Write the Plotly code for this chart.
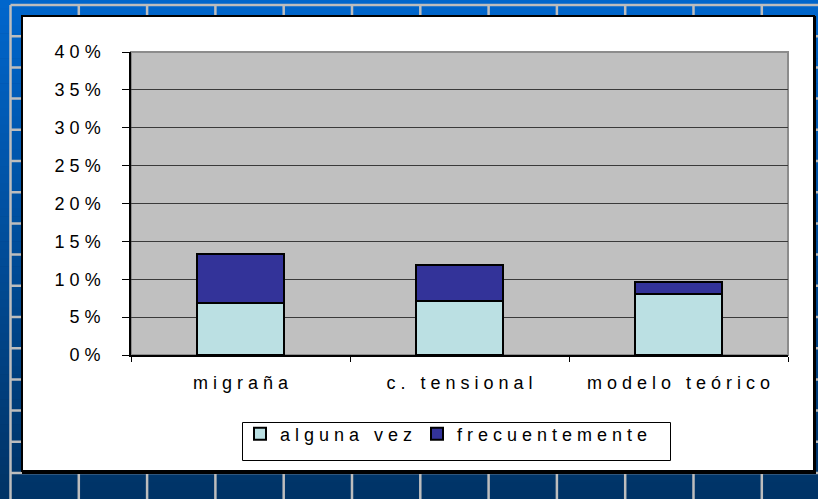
import plotly.graph_objects as go

# ---- data ----
categories = ["migraña", "c. tensional", "modelo teórico"]
series_names = ["alguna vez", "frecuentemente"]
alguna_vez = [0.068, 0.071, 0.080]
frecuentemente = [0.065, 0.048, 0.017]
y_tick_values = [0.00, 0.05, 0.10, 0.15, 0.20, 0.25, 0.30, 0.35, 0.40]
y_tick_labels = ["0%", "5%", "10%", "15%", "20%", "25%", "30%", "35%", "40%"]

NB = "\u00a0"


def spaced(s):
    return NB.join(ch if ch != " " else NB for ch in s)


# ---- geometry (pixels) ----
W, H = 818, 499
L, R, T, B = 131, 30, 52, 144
PW, PH = W - L - R, H - T - B


def px(x):
    return (x - L) / PW


def py(y):
    return (H - B - y) / PH


FONT = "Arial, Liberation Sans, sans-serif"

fig = go.Figure()
fig.add_trace(go.Bar(
    x=categories, y=alguna_vez, name=spaced(series_names[0]),
    marker=dict(color="#BBE0E3", line=dict(color="black", width=2)),
    width=0.4, legendwidth=132,
))
fig.add_trace(go.Bar(
    x=categories, y=frecuentemente, name=spaced(series_names[1]),
    marker=dict(color="#333399", line=dict(color="black", width=2)),
    width=0.4, legendwidth=215,
))

shapes = []
# gradient background
N = 60
top_c = (0, 102, 204)
bot_c = (0, 51, 102)
for i in range(N):
    t = i / (N - 1)
    c = tuple(round(top_c[k] + (bot_c[k] - top_c[k]) * t) for k in range(3))
    y0 = H * i / N
    y1 = H * (i + 1) / N + 0.6
    shapes.append(dict(type="rect", xref="paper", yref="paper", layer="below",
                       x0=px(-2), x1=px(W + 2), y0=py(y0), y1=py(y1),
                       fillcolor="rgb(%d,%d,%d)" % c, line=dict(width=0)))
# slide grid lines
gcol = "#BDBDBD"
for k in range(16):
    y = 5 + 31.2 * k
    shapes.append(dict(type="line", xref="paper", yref="paper", layer="below",
                       x0=px(10.5), x1=px(W + 2), y0=py(y), y1=py(y),
                       line=dict(color=gcol, width=2.5)))
for k in range(12):
    x = 10.5 + 68.3 * k
    shapes.append(dict(type="line", xref="paper", yref="paper", layer="below",
                       x0=px(x), x1=px(x), y0=py(5), y1=py(H + 2),
                       line=dict(color=gcol, width=2.5)))
# white chart box with shadow
shapes.append(dict(type="rect", xref="paper", yref="paper", layer="below",
                   x0=px(22), x1=px(816), y0=py(16), y1=py(474),
                   fillcolor="black", line=dict(width=0)))
shapes.append(dict(type="rect", xref="paper", yref="paper", layer="below",
                   x0=px(22), x1=px(814), y0=py(16), y1=py(471),
                   fillcolor="white", line=dict(color="black", width=2)))
# legend box
shapes.append(dict(type="rect", xref="paper", yref="paper", layer="below",
                   x0=px(242.5), x1=px(670.5), y0=py(422.5), y1=py(460.5),
                   fillcolor="white", line=dict(color="black", width=1)))
# plot area
shapes.append(dict(type="rect", xref="paper", yref="paper", layer="below",
                   x0=0, x1=1, y0=0, y1=1,
                   fillcolor="#C0C0C0", line=dict(color="#8C8C8C", width=2)))

fig.update_layout(
    width=W, height=H,
    margin=dict(l=L, r=R, t=T, b=B, pad=0),
    paper_bgcolor="#003366",
    plot_bgcolor="rgba(0,0,0,0)",
    barmode="stack",
    bargap=0.6,
    showlegend=True,
    font=dict(family=FONT, size=18, color="black"),
    shapes=shapes,
    legend=dict(
        orientation="h", x=px(240), xanchor="left", y=py(434), yanchor="middle",
        bgcolor="rgba(0,0,0,0)", borderwidth=0,
        font=dict(family=FONT, size=18, color="black"),
        entrywidthmode="pixels", traceorder="normal",
    ),
    xaxis=dict(
        type="category", tickvals=categories,
        ticktext=[spaced(c) for c in categories],
        showline=True, linecolor="black", linewidth=1.5,
        ticks="outside", tickson="boundaries", ticklen=5, tickcolor="black",
        showgrid=False, ticklabelstandoff=11,
        tickfont=dict(family=FONT, size=18, color="black"),
    ),
    yaxis=dict(
        range=[0, 0.40], tickvals=y_tick_values,
        ticktext=[spaced(t) for t in y_tick_labels],
        showline=True, linecolor="black", linewidth=1.5,
        ticks="outside", ticklen=7, tickcolor="black",
        showgrid=True, gridcolor="#3A3A3A", gridwidth=1,
        zeroline=False, ticklabelstandoff=18,
        tickfont=dict(family=FONT, size=18, color="black"),
    ),
)

fig.write_html(
    "out.html",
    config={"displayModeBar": False},
    post_script="document.body.style.margin='0';document.body.style.overflow='hidden';",
)
